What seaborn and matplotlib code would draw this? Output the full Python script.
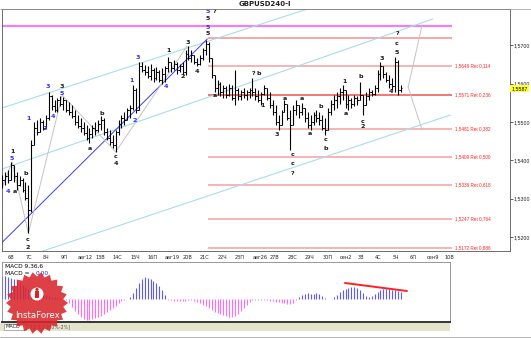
import numpy as np
import pandas as pd
import matplotlib
matplotlib.use("Agg")
import matplotlib.pyplot as plt
import matplotlib.transforms as mtransforms
from matplotlib.patches import Polygon, Rectangle, Circle
import seaborn as sns

# ---------------- data ----------------
bar_index = list(range(-2, 136))
high = [1.5362,1.5370,1.5375,1.5396,1.5388,1.5370,1.5359,1.5354,1.5344,1.5336,
        1.5453,1.5500,1.5505,1.5510,1.5505,1.5518,1.5578,1.5570,1.5557,1.5562,
        1.5567,1.5565,1.5557,1.5552,1.5544,1.5531,1.5518,1.5510,1.5500,1.5492,
        1.5484,1.5492,1.5500,1.5505,1.5515,1.5510,1.5484,1.5479,1.5466,1.5479,
        1.5505,1.5518,1.5526,1.5536,1.5544,1.5596,1.5588,1.5656,1.5656,1.5648,
        1.5645,1.5651,1.5640,1.5643,1.5635,1.5640,1.5645,1.5669,1.5656,1.5661,
        1.5656,1.5651,1.5656,1.5687,1.5697,1.5687,1.5674,1.5666,1.5674,1.5692,
        1.5713,1.5708,1.5666,1.5622,1.5609,1.5604,1.5596,1.5593,1.5599,1.5596,
        1.5635,1.5588,1.5583,1.5588,1.5583,1.5588,1.5614,1.5588,1.5583,1.5578,
        1.5596,1.5588,1.5578,1.5557,1.5544,1.5518,1.5531,1.5557,1.5547,1.5531,
        1.5544,1.5557,1.5544,1.5549,1.5536,1.5526,1.5518,1.5526,1.5531,1.5526,
        1.5518,1.5510,1.5536,1.5557,1.5570,1.5578,1.5588,1.5596,1.5583,1.5570,
        1.5562,1.5570,1.5567,1.5604,1.5570,1.5578,1.5588,1.5583,1.5596,1.5635,
        1.5656,1.5645,1.5630,1.5622,1.5614,1.5669,1.5661,1.5596]
low = [1.5328,1.5336,1.5341,1.5349,1.5344,1.5323,1.5333,1.5318,1.5297,1.5210,
       1.5266,1.5440,1.5466,1.5474,1.5479,1.5484,1.5505,1.5531,1.5526,1.5526,
       1.5541,1.5531,1.5526,1.5518,1.5510,1.5492,1.5484,1.5474,1.5466,1.5453,
       1.5445,1.5458,1.5466,1.5474,1.5479,1.5466,1.5453,1.5440,1.5432,1.5422,
       1.5466,1.5484,1.5492,1.5505,1.5510,1.5531,1.5523,1.5531,1.5630,1.5622,
       1.5614,1.5609,1.5604,1.5609,1.5604,1.5599,1.5604,1.5630,1.5630,1.5635,
       1.5625,1.5630,1.5622,1.5622,1.5661,1.5656,1.5651,1.5645,1.5648,1.5661,
       1.5674,1.5656,1.5614,1.5578,1.5570,1.5567,1.5562,1.5562,1.5567,1.5557,
       1.5544,1.5557,1.5557,1.5562,1.5557,1.5562,1.5567,1.5557,1.5552,1.5544,
       1.5570,1.5557,1.5536,1.5518,1.5492,1.5479,1.5492,1.5526,1.5505,1.5427,
       1.5492,1.5518,1.5510,1.5518,1.5500,1.5484,1.5479,1.5492,1.5500,1.5492,
       1.5479,1.5466,1.5479,1.5518,1.5531,1.5536,1.5547,1.5557,1.5536,1.5531,
       1.5536,1.5541,1.5544,1.5557,1.5518,1.5544,1.5557,1.5567,1.5570,1.5578,
       1.5609,1.5614,1.5604,1.5588,1.5583,1.5578,1.5570,1.5578]
open_ = [1.5344,1.5349,1.5359,1.5349,1.5388,1.5359,1.5336,1.5349,1.5323,1.5302,
         1.5271,1.5440,1.5484,1.5474,1.5500,1.5484,1.5510,1.5567,1.5541,1.5531,
         1.5557,1.5547,1.5557,1.5531,1.5526,1.5515,1.5500,1.5489,1.5484,1.5471,
         1.5458,1.5469,1.5484,1.5479,1.5495,1.5505,1.5474,1.5458,1.5448,1.5440,
         1.5474,1.5495,1.5510,1.5505,1.5531,1.5536,1.5583,1.5531,1.5645,1.5635,
         1.5630,1.5619,1.5635,1.5614,1.5630,1.5609,1.5625,1.5640,1.5656,1.5640,
         1.5651,1.5635,1.5645,1.5630,1.5677,1.5666,1.5674,1.5656,1.5651,1.5666,
         1.5687,1.5703,1.5666,1.5622,1.5588,1.5599,1.5578,1.5588,1.5570,1.5588,
         1.5562,1.5583,1.5567,1.5578,1.5570,1.5578,1.5583,1.5578,1.5567,1.5557,
         1.5573,1.5588,1.5562,1.5544,1.5526,1.5500,1.5492,1.5526,1.5547,1.5510,
         1.5492,1.5531,1.5544,1.5526,1.5536,1.5510,1.5492,1.5500,1.5518,1.5510,
         1.5505,1.5484,1.5479,1.5526,1.5547,1.5557,1.5567,1.5578,1.5583,1.5547,
         1.5557,1.5547,1.5562,1.5557,1.5570,1.5544,1.5567,1.5578,1.5573,1.5588,
         1.5625,1.5645,1.5625,1.5609,1.5599,1.5593,1.5656,1.5583]
close = [1.5349,1.5359,1.5349,1.5388,1.5359,1.5336,1.5349,1.5323,1.5302,1.5271,
         1.5440,1.5484,1.5474,1.5500,1.5484,1.5510,1.5567,1.5541,1.5531,1.5557,
         1.5547,1.5557,1.5531,1.5526,1.5515,1.5500,1.5489,1.5484,1.5471,1.5458,
         1.5469,1.5484,1.5479,1.5495,1.5505,1.5474,1.5458,1.5448,1.5440,1.5474,
         1.5495,1.5510,1.5505,1.5531,1.5536,1.5583,1.5531,1.5645,1.5635,1.5630,
         1.5619,1.5635,1.5614,1.5630,1.5609,1.5625,1.5640,1.5656,1.5640,1.5651,
         1.5635,1.5645,1.5630,1.5677,1.5666,1.5674,1.5656,1.5651,1.5666,1.5687,
         1.5703,1.5666,1.5622,1.5588,1.5599,1.5578,1.5588,1.5570,1.5588,1.5562,
         1.5583,1.5567,1.5578,1.5570,1.5578,1.5583,1.5578,1.5567,1.5557,1.5573,
         1.5588,1.5562,1.5544,1.5526,1.5500,1.5492,1.5526,1.5547,1.5510,1.5492,
         1.5531,1.5544,1.5526,1.5536,1.5510,1.5492,1.5500,1.5518,1.5510,1.5505,
         1.5484,1.5479,1.5526,1.5547,1.5557,1.5567,1.5578,1.5583,1.5547,1.5557,
         1.5547,1.5562,1.5557,1.5570,1.5544,1.5567,1.5578,1.5573,1.5588,1.5625,
         1.5645,1.5625,1.5609,1.5599,1.5593,1.5656,1.5583,1.5588]
macd = [0.0023,0.0023,0.0022,0.0021,0.0020,0.0018,0.0016,0.0014,0.0012,0.0010,
        0.0009,0.0008,0.0007,0.0006,0.0005,0.0004,0.0003,0.0002,0.0002,0.0001,
        0.0001,0.00005,-0.0001,-0.0004,-0.0008,-0.0012,-0.0015,-0.0018,-0.0020,-0.0021,
        -0.0021,-0.0020,-0.0019,-0.0018,-0.0017,-0.0015,-0.0013,-0.0011,-0.0009,-0.0007,
        -0.0004,-0.0002,-0.0001,0.00005,0.0002,0.0006,0.0011,0.0016,0.0020,0.0022,
        0.0021,0.0020,0.0018,0.0016,0.0013,0.0009,0.0004,-0.0001,-0.0001,-0.00015,
        -0.00015,-0.0002,-0.0002,-0.00015,-0.0001,-0.0001,-0.0002,-0.0003,-0.0004,-0.0006,
        -0.0007,-0.0009,-0.0011,-0.0013,-0.0014,-0.0015,-0.0016,-0.0017,-0.0018,-0.0018,
        -0.0017,-0.0015,-0.0012,-0.0009,-0.0006,-0.0003,-0.0001,-0.00005,-0.00005,-0.0001,
        -0.0001,-0.0001,-0.00015,-0.0002,-0.0003,-0.0003,-0.0004,-0.0004,-0.0005,-0.0005,
        -0.0004,-0.0001,0.0002,0.0004,0.0005,0.0006,0.0005,0.0005,0.0006,0.0005,
        0.0003,0.0001,0.00005,0.00005,0.0002,0.0004,0.0007,0.0009,0.0010,0.0011,
        0.0012,0.0012,0.0011,0.0009,0.0006,0.0003,0.0002,0.0003,0.0005,0.0007,
        0.0009,0.0010,0.0010,0.0010,0.0009,0.0009,0.0008,0.0007]

day_bar = [0, 6, 12, 18, 24, 30, 36, 42, 48, 54, 60, 66, 72, 78, 84, 90, 96,
           102, 108, 114, 120, 126, 132, 138, 144, 150]
day_labels = ["6В", "7С", "8Ч", "9П", "авг12", "13В", "14С", "15Ч", "16П", "авг19",
              "20В", "21С", "22Ч", "23П", "авг26", "27В", "28С", "29Ч", "30П", "сен2",
              "3В", "4С", "5Ч", "6П", "сен9", "10В"]
price_ticks = [1.5700, 1.5600, 1.5500, 1.5400, 1.5300, 1.5200]
fib_levels = [1.5646, 1.5571, 1.5481, 1.5409, 1.5336, 1.5247, 1.5172]
fib_ratios = ["0,114", "0,236", "0,382", "0,500", "0,618", "0,764", "0,886"]
top_level = 1.5718
magenta_level = 1.5749
last_price = 1.5587

# channel / wave lines as (bar index, price) pairs
cyan_lines = [[(-3, 1.5534), (120, 1.5836)],
              [(-3, 1.5375), (146, 1.5768)],
              [(10, 1.5159), (152, 1.5518)]]
blue_line = [(-3, 1.5179), (68.5, 1.5716)]
gray_lines = [[(-3, 1.5310), (1.4, 1.5396), (7, 1.5210), (18.6, 1.5570), (37, 1.5422), (61.5, 1.5697)],
              [(137.5, 1.5591), (142.3, 1.5752)],
              [(137.5, 1.5591), (142.3, 1.5479)]]
macd_trend = [(115.8, 0.0016), (137.1, 0.0008)]

BLUE = "#2f2fff"
wave_labels = [
    (1.4, 1.5404, "5", BLUE), (0.0, 1.5318, "4", BLUE), (6.9, 1.5508, "1", BLUE),
    (12.7, 1.5484, "2", BLUE), (13.7, 1.5591, "3", BLUE), (15.5, 1.5515, "4", BLUE),
    (18.6, 1.5573, "5", BLUE), (42.6, 1.5609, "1", BLUE), (43.6, 1.5505, "2", BLUE),
    (44.7, 1.5669, "3", BLUE), (54.3, 1.5591, "4", BLUE), (68.7, 1.5747, "5", BLUE),
    (68.7, 1.5788, "5", BLUE),
    (1.4, 1.5422, "1", "k"), (2.4, 1.5320, "a", "k"), (6.2, 1.5367, "b", "k"),
    (6.9, 1.5193, "c", "k"), (6.9, 1.5172, "2", "k"), (18.6, 1.5593, "3", "k"),
    (32.3, 1.5523, "b", "k"), (28.2, 1.5430, "a", "k"), (37.1, 1.5409, "c", "k"),
    (37.1, 1.5393, "4", "k"), (55.0, 1.5687, "1", "k"), (60.1, 1.5619, "2", "k"),
    (61.9, 1.5708, "3", "k"), (64.9, 1.5632, "4", "k"), (68.7, 1.5731, "5", "k"),
    (68.7, 1.5768, "5", "k"), (70.8, 1.5788, "?", "k"), (71.1, 1.5570, "a", "k"),
    (84.2, 1.5627, "?", "k"), (86.3, 1.5627, "b", "k"), (87.6, 1.5544, "1", "k"),
    (95.2, 1.5562, "a", "k"), (101.0, 1.5560, "a", "k"), (107.6, 1.5539, "b", "k"),
    (92.4, 1.5466, "3", "k"), (103.8, 1.5471, "a", "k"), (109.3, 1.5453, "c", "k"),
    (109.3, 1.5430, "b", "k"), (97.9, 1.5414, "c", "k"), (97.9, 1.5393, "c", "k"),
    (97.9, 1.5367, "?", "k"), (115.5, 1.5606, "1", "k"), (121.3, 1.5617, "b", "k"),
    (116.2, 1.5521, "a", "k"), (122.0, 1.5502, "c", "k"), (122.0, 1.5487, "2", "k"),
    (128.5, 1.5664, "3", "k"), (131.6, 1.5580, "4", "k"), (133.7, 1.5682, "5", "k"),
    (133.7, 1.5705, "c", "k"), (133.7, 1.5729, "?", "k"),
]
fib_start, fib_end = 68.7, 152.6

# ---------------- figure ----------------
sns.set_theme(style="white")
plt.rcParams["font.family"] = ["DejaVu Sans"]
W, H = 531, 338
fig = plt.figure(figsize=(W / 100, H / 100), dpi=100)
fig.patch.set_facecolor("white")
NARROW = ["Liberation Sans Narrow", "Liberation Sans"]


def frac(x0, y0, x1, y1):
    return [x0 / W, 1 - y1 / H, (x1 - x0) / W, (y1 - y0) / H]


ax = fig.add_axes(frac(2, 9, 510, 251))
ax.set_facecolor("white")
ax.set_xlim(-2.06, 172.5)
ax.set_ylim(1.5164, 1.5794)

# horizontal levels
ax.hlines(magenta_level, -3, fib_end, color="#f07ff0", lw=1.6, zorder=1)
ax.hlines(top_level, fib_start, fib_end, color="#f4a0a0", lw=1.3, zorder=1)
for lvl, r in zip(fib_levels, fib_ratios):
    col = "#f05050" if r == "0,236" else "#f4a0a0"
    ax.hlines(lvl, fib_start, fib_end, color=col, lw=1.1, zorder=1)
    ax.text(fib_end + 0.9, lvl, f"{lvl:.4f}".replace(".", ",") + " Ret " + r,
            color="#ff2020", fontsize=3.3, va="center", ha="left", family=NARROW)

# channel & wave lines (seaborn)
for ln in cyan_lines:
    d = pd.DataFrame(ln, columns=["i", "p"])
    sns.lineplot(data=d, x="i", y="p", ax=ax, color="#a9dde6", lw=0.8, sort=False,
                 estimator=None, zorder=2)
d = pd.DataFrame(blue_line, columns=["i", "p"])
sns.lineplot(data=d, x="i", y="p", ax=ax, color="#3c3cf0", lw=0.7, sort=False,
             estimator=None, zorder=2)
for ln in gray_lines:
    d = pd.DataFrame(ln, columns=["i", "p"])
    sns.lineplot(data=d, x="i", y="p", ax=ax, color="#c4c4c4", lw=0.7, sort=False,
                 estimator=None, zorder=2)

# OHLC bars
bars = pd.DataFrame(dict(i=bar_index, o=open_, h=high, l=low, c=close))
ax.vlines(bars.i, bars.l, bars.h, color="black", lw=0.8, zorder=3)
ax.hlines(bars.o, bars.i - 0.5, bars.i, color="black", lw=0.7, zorder=3)
ax.hlines(bars.c, bars.i, bars.i + 0.5, color="black", lw=0.7, zorder=3)

# wave labels
for (xi, p, t, c) in wave_labels:
    ax.text(xi, p, t, color=c, fontsize=4.6, ha="center", va="center",
            fontweight="bold", zorder=4)

# axes styling
ax.set_xlabel("")
ax.set_ylabel("")
ax.yaxis.tick_right()
ax.set_yticks(price_ticks)
ax.set_yticklabels([f"{p:.4f}".replace(".", ",") for p in price_ticks],
                   fontfamily="Liberation Sans")
ax.tick_params(axis="y", length=2, width=0.5, labelsize=3.8, pad=0.8,
               colors="#222222", direction="out")
ax.set_xticks(day_bar)
ax.set_xticklabels(day_labels)
ax.tick_params(axis="x", length=2, width=0.5, labelsize=3.6, pad=1, colors="#222222",
               direction="out")
for lbl in ax.get_xticklabels():
    lbl.set_ha("left")
for s in ax.spines.values():
    s.set_color("#555555")
    s.set_linewidth(0.6)

# current price box
trans = mtransforms.blended_transform_factory(ax.transAxes, ax.transData)
ax.text(1.0025, last_price, f"{last_price:.4f}".replace(".", ","), transform=trans,
        fontsize=3.8, ha="left", va="center", color="black", family="Liberation Sans",
        bbox=dict(boxstyle="square,pad=0.2", fc="#ffff33", ec="none"), zorder=6)

# ---------------- MACD panel ----------------
am = fig.add_axes(frac(2, 262, 450, 322))
am.set_facecolor("white")
am.set_xlim(-2.06, 151.9)
am.set_ylim(-0.0023, 0.0037)
mdf = pd.DataFrame(dict(i=bar_index, v=macd))
pos = mdf[mdf.v >= 0]
neg = mdf[mdf.v < 0]
am.vlines(pos.i, 0, pos.v, color="#5a5aff", lw=0.8)
am.vlines(neg.i, 0, neg.v, color="#ff6cff", lw=0.8)
d = pd.DataFrame(macd_trend, columns=["i", "v"])
sns.lineplot(data=d, x="i", y="v", ax=am, color="#ff2020", lw=1.4, estimator=None)
am.set_xticks([])
am.set_yticks([])
am.set_xlabel("")
am.set_ylabel("")
for k, s in am.spines.items():
    s.set_color("#888888")
    s.set_linewidth(0.6)
am.spines["bottom"].set_color("#333333")
am.spines["bottom"].set_linewidth(1.4)
am.text(0.006, 0.93, "MACD 9,36,6", transform=am.transAxes, fontsize=4.2,
        ha="left", va="center", color="black", zorder=20)
am.text(0.006, 0.81, "MACD = ", transform=am.transAxes, fontsize=4.2,
        ha="left", va="center", color="black", zorder=20)
am.text(0.074, 0.81, "0,00", transform=am.transAxes, fontsize=4.2,
        ha="left", va="center", color="#2020ff", zorder=20)

# ---------------- decorations (pixel overlay) ----------------
ov = fig.add_axes([0, 0, 1, 1], zorder=10)
ov.set_xlim(0, W)
ov.set_ylim(H, 0)
ov.axis("off")
ov.add_patch(Rectangle((0, 322.5), 450, 8.5, fc="#e4e4cc", ec="none", zorder=1))
ov.add_patch(Rectangle((4, 323.5), 22, 6.5, fc="white", ec="#777777", lw=0.4, zorder=2))
ov.text(6, 327, "MACD", fontsize=3.6, va="center", ha="left", zorder=3)
ov.text(30, 327, "13.3.1 [60%-2%]", fontsize=3.4, va="center", ha="left",
        color="#555555", zorder=3)
ov.plot([0, W], [336.5, 336.5], color="#999999", lw=0.5, zorder=1)
ov.plot([0, W], [9, 9], color="#999999", lw=0.5, zorder=1)

# InstaForex logo
n = 22
ang = np.linspace(0, 2 * np.pi, 2 * n, endpoint=False)
rad = np.where(np.arange(2 * n) % 2 == 0, 31, 26.5)
cx, cy = 37, 303
star = np.column_stack([cx + rad * np.cos(ang), cy + rad * np.sin(ang)])
ov.add_patch(Polygon(star, closed=True, fc="#d9262c", ec="none", alpha=0.88, zorder=5))
ov.add_patch(Circle((cx, 294), 6.5, fc="white", ec="none", zorder=6))
ov.add_patch(Rectangle((cx - 2.2, 291), 4.4, 6.5, fc="#d9262c", ec="none", zorder=7))
ov.add_patch(Circle((cx, 289.5), 1.6, fc="#d9262c", ec="none", zorder=7))
ov.text(cx, 315, "InstaForex", color="white", fontsize=6.2, ha="center",
        va="center", zorder=7)

fig.text(265 / W, 1 - 4.5 / H, "GBPUSD240-I", fontsize=5, fontweight="bold",
         ha="center", va="center", color="#222222")

fig.savefig("out.png", dpi=100)
